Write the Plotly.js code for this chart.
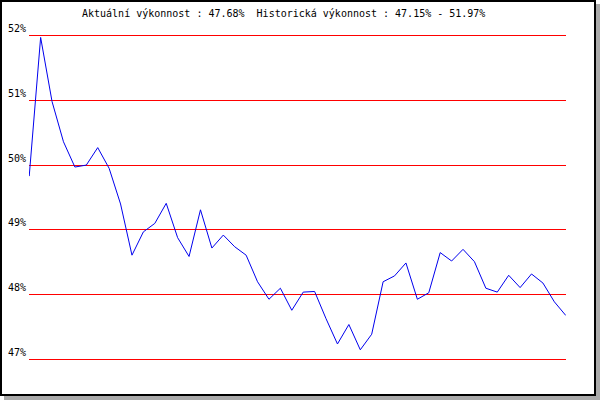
<!DOCTYPE html>
<html>
<head>
<meta charset="utf-8">
<script src="https://cdn.plot.ly/plotly-3.0.1.min.js"></script>
<style>
  html, body { margin: 0; padding: 0; background: #ffffff; }
  #frame {
    position: absolute; left: 0; top: 0;
    width: 596px; height: 396px; box-sizing: border-box;
    border: 2px solid #000000; background: #ffffff;
    box-shadow: 4px 4px 0 #aaaaaa;
  }
  #chart { position: absolute; left: 0; top: 0; width: 600px; height: 400px; }
</style>
</head>
<body>
<div id="frame"></div>
<div id="chart"></div>
<script>
// Performance values (%), in order
const performance = [
  49.83, 51.97, 50.98, 50.36, 49.97, 50.00, 50.27, 49.95, 49.40, 48.61,
  48.97, 49.10, 49.41, 48.88, 48.59, 49.31, 48.72, 48.92, 48.74, 48.61,
  48.20, 47.93, 48.10, 47.76, 48.04, 48.05, 47.63, 47.24, 47.54, 47.15,
  47.39, 48.20, 48.29, 48.49, 47.93, 48.03, 48.65, 48.52, 48.70, 48.51,
  48.10, 48.04, 48.30, 48.11, 48.32, 48.18, 47.89, 47.68
];
const yTickValues = [47, 48, 49, 50, 51, 52];
const yTickLabels = ['47%', '48%', '49%', '50%', '51%', '52%'];
const currentPerf = '47.68%';
const histMin = '47.15%';
const histMax = '51.97%';

const periods = performance.map((_, i) => i);

const titleText = 'Aktuální výkonnost : ' + currentPerf +
  '\u00a0\u00a0Historická výkonnost : ' + histMin + ' - ' + histMax;

const trace = {
  x: periods,
  y: performance,
  type: 'scatter',
  mode: 'lines',
  line: { color: '#0000ee', width: 1 },
  hoverinfo: 'skip'
};

const layout = {
  width: 600, height: 400,
  margin: { l: 29, r: 34, t: 29, b: 34, pad: 0 },
  paper_bgcolor: 'rgba(0,0,0,0)',
  plot_bgcolor: 'rgba(0,0,0,0)',
  showlegend: false,
  font: { family: 'DejaVu Sans Mono, monospace', size: 10, color: '#000000' },
  title: {
    text: titleText,
    font: { family: 'DejaVu Sans Mono, monospace', size: 10, color: '#000000' },
    xref: 'container', yref: 'container',
    x: 82 / 600, xanchor: 'left',
    y: 1 - 13 / 400, yanchor: 'middle'
  },
  xaxis: {
    range: [-0.02, 47.02],
    showgrid: false, zeroline: false, showline: false,
    showticklabels: false, ticks: ''
  },
  yaxis: {
    range: [46.9, 52.1],
    tickvals: yTickValues,
    ticktext: yTickLabels,
    showgrid: true, gridcolor: '#ff0000', gridwidth: 1,
    zeroline: false, showline: false, ticks: '',
    ticklabelposition: 'outside top',
    ticklabelstandoff: 2,
    tickfont: { family: 'DejaVu Sans Mono, monospace', size: 10, color: '#000000' }
  }
};

Plotly.newPlot('chart', [trace], layout, { staticPlot: true, displayModeBar: false });
</script>
</body>
</html>
